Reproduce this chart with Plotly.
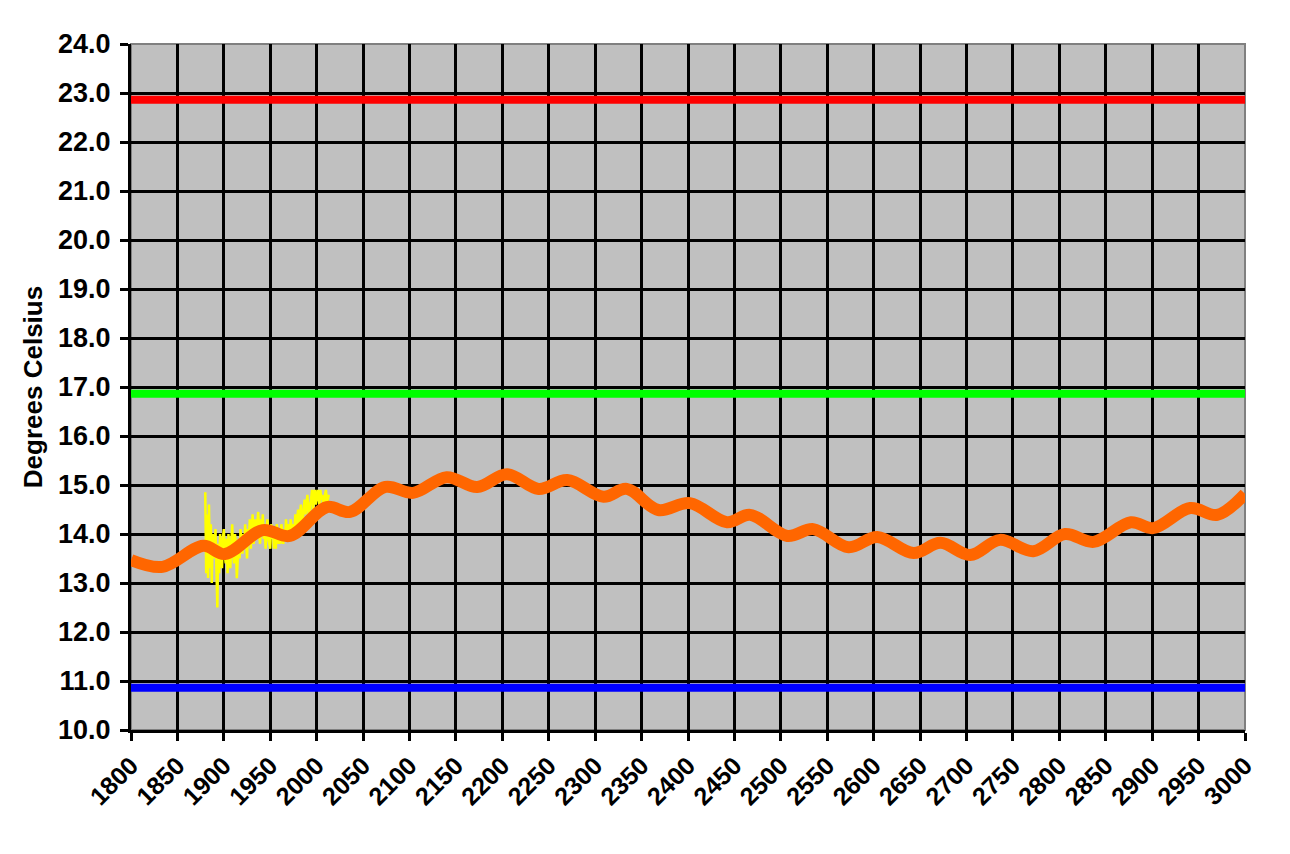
import plotly.graph_objects as go

# ---- data ----
x_ticks = list(range(1800, 3001, 50))
y_ticks = [10 + i for i in range(15)]

# reference levels (constant lines)
line_years = [1800, 3000]
red_level = [22.86, 22.86]
green_level = [16.86, 16.86]
blue_level = [10.86, 10.86]

# orange smoothed projection (read at turning points)
orange_years = [1800, 1834, 1878, 1901, 1942, 1971, 2011, 2036, 2074, 2104,
                2140, 2173, 2205, 2239, 2270, 2309, 2334, 2368, 2402, 2442,
                2467, 2507, 2535, 2573, 2604, 2643, 2672, 2704, 2736, 2772,
                2806, 2837, 2877, 2901, 2941, 2970, 3000]
orange_vals = [13.47, 13.33, 13.76, 13.59, 14.08, 13.96, 14.55, 14.45, 14.96, 14.84,
               15.16, 14.96, 15.22, 14.92, 15.10, 14.76, 14.92, 14.49, 14.63, 14.24,
               14.39, 13.96, 14.10, 13.73, 13.94, 13.61, 13.82, 13.57, 13.88, 13.65,
               14.00, 13.84, 14.24, 14.12, 14.53, 14.39, 14.82]

# yellow observed annual temperatures
yellow_years = list(range(1880, 2014))
yellow_vals = [
    14.85, 13.20, 14.40, 13.10, 14.60, 13.30, 14.20, 13.00, 14.00, 13.60,
    13.50, 14.10, 13.30, 12.50, 13.80, 13.20, 14.00, 13.60, 13.30, 13.90,
    14.10, 13.60, 13.40, 13.90, 13.20, 14.00, 13.70, 13.30, 13.80, 14.20,
    13.60, 13.40, 14.00, 13.80, 13.10, 13.70, 13.90, 13.50, 14.10, 13.80,
    13.60, 14.00, 13.70, 14.20, 13.80, 13.50, 14.10, 13.90, 14.30, 13.70,
    14.00, 14.40, 13.80, 14.10, 14.30, 13.90, 14.20, 14.45, 14.00, 13.80,
    14.30, 14.00, 14.40, 13.90, 14.20, 13.70, 14.10, 14.30, 13.90, 13.80,
    13.70, 14.20, 13.90, 14.10, 13.70, 14.00, 13.70, 14.20, 14.00, 13.80,
    14.10, 13.80, 14.20, 14.00, 13.80, 14.10, 13.90, 14.30, 13.90, 14.20,
    14.00, 13.90, 14.30, 14.10, 13.90, 14.20, 14.00, 14.40, 14.10, 14.30,
    14.50, 14.20, 14.40, 14.60, 14.10, 14.30, 14.50, 14.70, 14.40, 14.60,
    14.80, 14.50, 14.30, 14.60, 14.70, 14.90, 14.50, 14.80, 14.90, 14.60,
    14.70, 14.90, 14.80, 14.60, 14.90, 14.70, 14.80, 14.60, 14.50, 14.80,
    14.90, 14.60, 14.70, 14.80,
]

FONT = "Liberation Sans, Arial, sans-serif"

fig = go.Figure()

fig.add_trace(go.Scatter(x=line_years, y=red_level, mode="lines",
                         line=dict(color="#FF0000", width=8), showlegend=False,
                         cliponaxis=False))
fig.add_trace(go.Scatter(x=line_years, y=green_level, mode="lines",
                         line=dict(color="#00FF00", width=8), showlegend=False,
                         cliponaxis=False))
fig.add_trace(go.Scatter(x=line_years, y=blue_level, mode="lines",
                         line=dict(color="#0000FF", width=8), showlegend=False,
                         cliponaxis=False))
fig.add_trace(go.Scatter(x=yellow_years, y=yellow_vals, mode="lines",
                         line=dict(color="#FFFF00", width=2.5), showlegend=False))
fig.add_trace(go.Scatter(x=orange_years, y=orange_vals, mode="lines",
                         line=dict(color="#FF6600", width=12, shape="spline",
                                   smoothing=1.0),
                         showlegend=False))

fig.update_layout(
    width=1290, height=854,
    margin=dict(l=123, r=53, t=36, b=132, autoexpand=False),
    paper_bgcolor="white",
    plot_bgcolor="#C0C0C0",
    font=dict(family=FONT, color="black"),
    shapes=[dict(type="rect", xref="paper", yref="paper", x0=0, x1=1, y0=0, y1=1,
                 line=dict(color="#808080", width=2), layer="below")],
)

fig.update_xaxes(
    range=[1800, 3000], tickmode="array", tickvals=x_ticks,
    ticktext=[str(v) for v in x_ticks], tickangle=-45,
    tickfont=dict(family=FONT, size=25, color="black", weight="bold"),
    showgrid=True, gridcolor="black", gridwidth=3,
    showline=True, linecolor="black", linewidth=3,
    ticks="outside", ticklen=8, tickwidth=3, tickcolor="black",
    zeroline=False,
)
fig.update_yaxes(
    range=[10, 24], tickmode="array", tickvals=y_ticks,
    ticktext=[f"{v:.1f}" for v in y_ticks],
    tickfont=dict(family=FONT, size=27, color="black", weight="bold"),
    ticklabelstandoff=4,
    showgrid=True, gridcolor="black", gridwidth=3,
    showline=True, linecolor="black", linewidth=3,
    ticks="outside", ticklen=8, tickwidth=3, tickcolor="black",
    zeroline=False,
    title=dict(text="Degrees Celsius",
               font=dict(family=FONT, size=26, color="black", weight="bold"),
               standoff=8),
)

fig.write_html("out.html")
